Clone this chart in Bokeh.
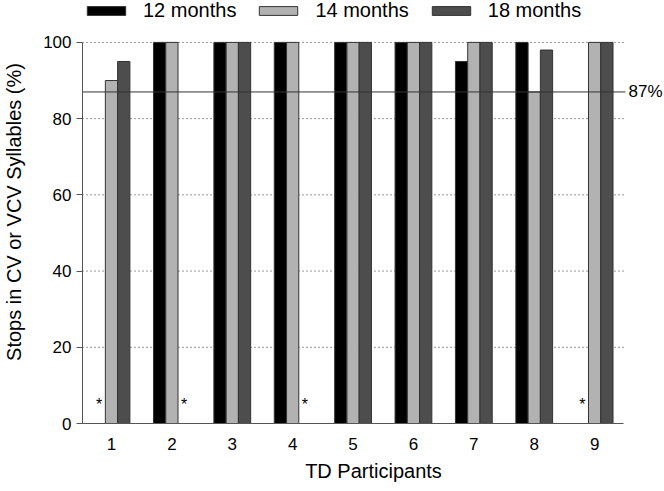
from bokeh.plotting import figure
from bokeh.models import ColumnDataSource, Range1d, FixedTicker, Legend, LegendItem
from bokeh.transform import dodge
from bokeh.core.properties import value
from bokeh.embed import file_html
from bokeh.resources import INLINE

# ---- data ----
participants = [1, 2, 3, 4, 5, 6, 7, 8, 9]
months_12 = [None, 100, 100, 100, 100, 100, 95, 100, None]
months_14 = [90, 100, 100, 100, 100, 100, 100, 87, 100]
months_18 = [95, None, 100, None, 100, 100, 100, 98, 100]
series_names = ["12 months", "14 months", "18 months"]
criterion = 87
y_ticks = [0, 20, 40, 60, 80, 100]

nan = float("nan")
def clean(v):
    return [nan if x is None else x for x in v]

src = ColumnDataSource(dict(x=participants, m12=clean(months_12),
                            m14=clean(months_14), m18=clean(months_18)))

FONT = "Liberation Sans"
bw = 0.203
offsets = [-bw, 0.0, bw]
colors = ["#000000", "#b2b2b2", "#4d4d4d"]

x0, x1 = 0.52, 9.48          # extent of the axes
y0, y1 = 0, 100

p = figure(width=664, height=491, output_backend="svg", toolbar_location=None,
           x_range=Range1d(x0, 10.157), y_range=Range1d(y0, 111.0),
           min_border=0, min_border_left=80, min_border_bottom=68)
p.outline_line_color = None
p.background_fill_color = "white"
p.xgrid.visible = False
p.ygrid.visible = False

# dotted grid lines (drawn only over the axis extent)
gl = y_ticks[1:]
p.segment(x0=[x0] * len(gl), x1=[x1] * len(gl), y0=gl, y1=gl,
          line_color="#333333", line_dash="1 3", line_width=1)

renderers = []
for col, off, c in zip(["m12", "m14", "m18"], offsets, colors):
    r = p.vbar(x=dodge("x", off, range=p.x_range), top=col, width=bw, source=src,
               fill_color=c, line_color="#333333", line_width=1)
    renderers.append(r)

# asterisks for missing sessions
ax, ay = [], []
for vals, off in zip([months_12, months_14, months_18], offsets):
    for xi, v in zip(participants, vals):
        if v is None:
            ax.append(xi + off)
            ay.append(5)
p.text(x=ax, y=ay, text=["*"] * len(ax), text_align="center", text_baseline="middle",
       text_font=value(FONT), text_font_size="16px", text_color="#000000")

# criterion line + label
p.segment(x0=[x0], x1=[x1 + 0.03], y0=[criterion], y1=[criterion],
          line_color="#333333", line_width=1)
p.text(x=[x1], y=[criterion], text=[f"{criterion}%"], x_offset=5,
       text_align="left", text_baseline="middle",
       text_font=value(FONT), text_font_size="17px", text_color="#000000")

# axes
p.xaxis.ticker = FixedTicker(ticks=participants)
p.xaxis.bounds = (x0, x1)
p.xaxis.major_tick_line_color = None
p.xaxis.minor_tick_line_color = None
p.xaxis.axis_line_color = "#555555"
p.xaxis.major_label_standoff = 8
p.xaxis.axis_label = "TD Participants"
p.xaxis.axis_label_standoff = 7

yax = p.yaxis[0]
yax.ticker = FixedTicker(ticks=y_ticks)
yax.bounds = (y0, y1)
yax.major_tick_out = 6
yax.major_tick_in = 0
yax.minor_tick_line_color = None
yax.major_tick_line_color = "#555555"
yax.axis_line_color = "#555555"
yax.major_label_standoff = 5
yax.axis_label = "Stops in CV or VCV Syllables (%)"
yax.axis_label_standoff = 15

for a in (p.xaxis[0], yax):
    a.major_label_text_font = FONT
    a.major_label_text_font_size = "17px"
    a.major_label_text_color = "#000000"
    a.axis_label_text_font = FONT
    a.axis_label_text_font_size = "20px"
    a.axis_label_text_font_style = "normal"
    a.axis_label_text_color = "#000000"

legend = Legend(items=[LegendItem(label=n, renderers=[r]) for n, r in zip(series_names, renderers)],
                orientation="horizontal", location=(0, 401),
                glyph_width=48, glyph_height=11, label_standoff=13, spacing=18,
                padding=0, margin=0, border_line_color=None, background_fill_alpha=0,
                label_text_font=FONT, label_text_font_size="20px", label_text_color="#000000")
p.add_layout(legend)

open("out.html", "w").write(file_html(p, INLINE))
